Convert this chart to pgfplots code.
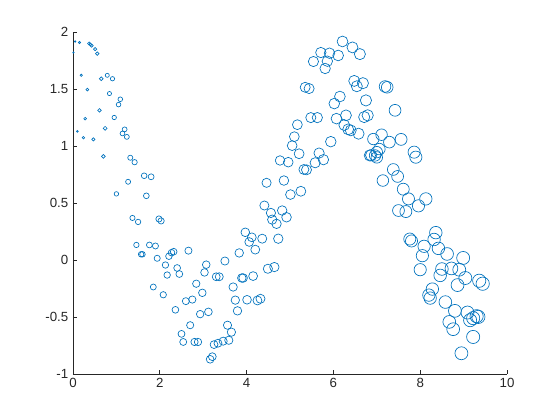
\documentclass[border=0pt]{standalone}
\usepackage{pgfplots}
\pgfplotsset{compat=1.18}
\usepackage{pgfplotstable}
\usepackage{fontspec}
\setmainfont{Liberation Sans}
\definecolor{mblue}{rgb}{0,0.447,0.741}
\definecolor{axgray}{rgb}{0.15,0.15,0.15}
\pgfplotstableread{
x y
0.01 1.82
0.05 1.917
0.10 1.128
0.15 1.908
0.19 1.62
0.24 1.073
0.28 1.24
0.33 1.495
0.37 1.90
0.40 1.89
0.43 1.88
0.47 1.058
0.51 1.85
0.56 1.81
0.61 1.313
0.65 1.59
0.70 0.909
0.74 1.155
0.79 1.62
0.84 1.46
0.91 1.59
0.95 1.25
1.00 0.580
1.05 1.363
1.09 1.41
1.14 1.11
1.19 1.146
1.24 1.08
1.27 0.686
1.32 0.897
1.37 0.369
1.42 0.858
1.46 0.132
1.50 0.334
1.57 0.05
1.60 0.05
1.64 0.739
1.69 0.563
1.76 0.132
1.80 0.730
1.85 -0.237
1.90 0.123
1.94 0.015
1.98 0.360
2.03 0.343
2.08 -0.305
2.13 -0.044
2.17 -0.132
2.21 0.033
2.27 0.064
2.32 0.073
2.36 -0.437
2.40 -0.070
2.45 -0.123
2.50 -0.648
2.54 -0.719
2.60 -0.361
2.66 0.082
2.70 -0.572
2.75 -0.347
2.80 -0.719
2.84 -0.208
2.88 -0.719
2.93 -0.475
2.98 -0.288
3.03 -0.109
3.07 -0.041
3.12 -0.455
3.16 -0.871
3.21 -0.848
3.25 -0.742
3.30 -0.147
3.34 -0.730
3.37 -0.147
3.46 -0.712
3.50 -0.009
3.56 -0.572
3.59 -0.704
3.65 -0.633
3.69 -0.237
3.74 -0.352
3.79 -0.446
3.83 0.062
3.89 -0.158
3.92 -0.158
3.97 0.243
4.01 -0.349
4.06 0.158
4.12 0.199
4.15 -0.141
4.20 0.091
4.25 -0.355
4.32 -0.340
4.36 0.187
4.41 0.478
4.46 0.677
4.49 -0.077
4.56 0.413
4.59 0.354
4.64 -0.062
4.69 0.317
4.73 0.187
4.77 0.873
4.82 0.434
4.86 0.697
4.92 0.375
4.96 0.858
5.01 0.574
5.05 1.003
5.10 1.082
5.17 1.187
5.21 0.932
5.25 0.603
5.32 0.794
5.35 1.515
5.38 0.791
5.44 1.504
5.48 1.249
5.54 1.741
5.58 0.853
5.63 1.249
5.67 0.938
5.71 1.82
5.77 0.880
5.81 1.68
5.86 1.744
5.91 1.814
5.94 1.038
6.02 1.372
6.07 1.24
6.11 1.794
6.15 1.434
6.21 1.917
6.25 1.184
6.29 1.269
6.34 1.146
6.40 1.137
6.44 1.865
6.48 1.571
6.54 1.524
6.58 1.108
6.61 1.806
6.68 1.551
6.71 1.254
6.75 1.40
6.79 1.269
6.84 0.917
6.87 0.919
6.92 1.061
6.96 0.917
7.00 0.946
7.00 0.90
7.06 0.973
7.11 1.099
7.14 0.697
7.19 1.522
7.24 1.515
7.29 1.034
7.38 0.794
7.42 1.313
7.48 0.733
7.50 0.434
7.56 1.058
7.61 0.621
7.67 0.425
7.73 0.536
7.76 0.184
7.80 0.167
7.86 0.946
7.90 0.902
7.96 0.475
8.00 -0.085
8.05 0.038
8.09 0.12
8.13 0.536
8.20 -0.308
8.23 -0.334
8.28 -0.255
8.32 0.18
8.36 0.24
8.42 0.102
8.46 -0.135
8.50 -0.079
8.58 -0.369
8.62 0.053
8.67 -0.543
8.72 -0.074
8.76 -0.607
8.80 -0.446
8.86 -0.220
8.90 -0.085
8.95 -0.818
8.99 0.018
9.04 -0.158
9.09 -0.461
9.15 -0.528
9.22 -0.510
9.22 -0.675
9.30 -0.493
9.34 -0.499
9.36 -0.182
9.44 -0.208
}\datatable
\begin{document}
\begin{tikzpicture}
\begin{axis}[
  scale only axis,
  width=325.5bp, height=256.5bp,
  xmin=0, xmax=10, ymin=-1, ymax=2,
  axis x line*=bottom, axis y line*=left,
  axis line style={axgray, line width=0.5pt, -},
  xtick={0,2,4,6,8,10},
  ytick={-1,-0.5,0,0.5,1,1.5,2},
  xticklabels={0,2,4,6,8,10},
  yticklabels={-1,-0.5,0,0.5,1,1.5,2},
  tick align=inside,
  major tick length=3.3bp,
  tick style={axgray, line width=0.5pt},
  ticklabel style={font=\fontsize{10}{12}\selectfont, text=axgray},
  /pgf/number format/assume math mode=true,
  clip=false,
]
\addplot[
  only marks, mark=o, scatter,
  scatter/use mapped color={draw=mblue, fill=none},
  mark options={line width=0.5pt},
  visualization depends on={sqrt(1+10.504*\thisrow{x})/2 \as \msize},
  scatter/@pre marker code/.append style={/tikz/mark size=\msize pt},
] table[x=x, y=y] {\datatable};
\end{axis}
\pgfresetboundingbox
\useasboundingbox ([xshift=-54.75bp, yshift=-34.5bp]current axis.south west) rectangle ++(420bp,315bp);
\end{tikzpicture}
\end{document}
